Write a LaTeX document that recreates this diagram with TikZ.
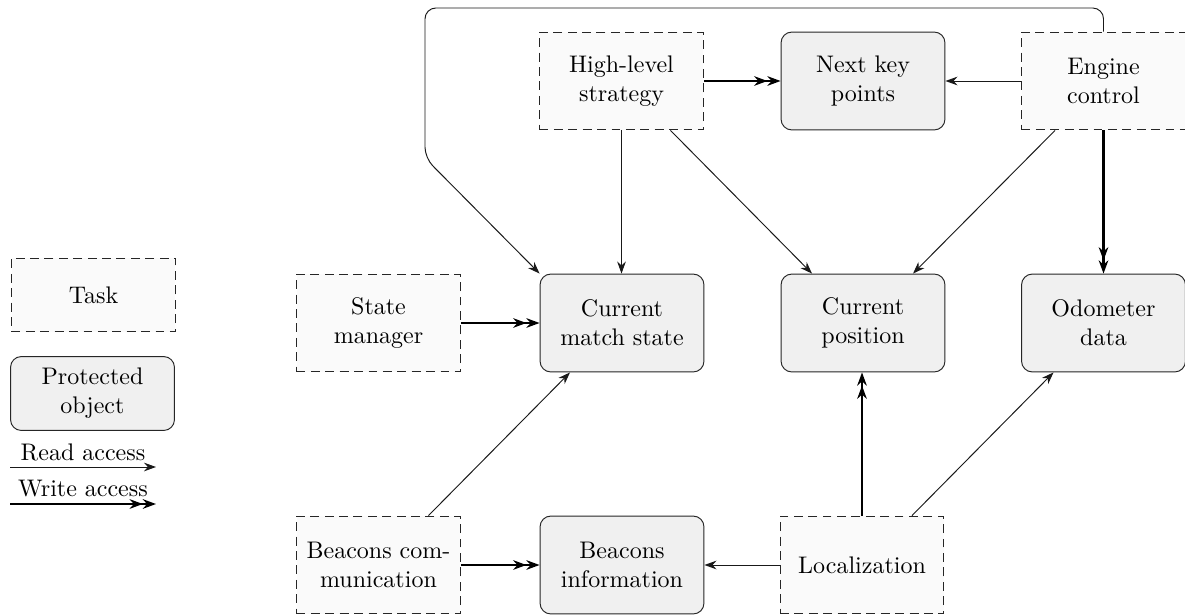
\documentclass[tikz,border=0pt]{standalone}
\usetikzlibrary{arrows.meta,calc}
\begin{document}
\begin{tikzpicture}[x=0.41667pt,y=-0.41667pt,
  box/.style={minimum width=68.3pt,minimum height=40.8pt,align=center,inner sep=2pt,font=\normalsize},
  task/.style={box,draw=black!85,fill=black!2,dash pattern=on 3.7pt off 2.3pt,line width=0.4pt},
  prot/.style={box,draw=black!85,fill=black!6,rounded corners=4.5pt,line width=0.4pt},
  legend/.style={minimum height=30.8pt},
  read/.style={-{Stealth[length=5pt,width=3.6pt]},line width=0.4pt,black!90},
  write/.style={-{Stealth[length=5.5pt,width=4pt]Stealth[length=5.5pt,width=4pt]},line width=0.9pt}
]
\useasboundingbox[fill=white] (0,0) rectangle (1185,616);

% legend
\node[task,legend] (lt) at (93.5,295) {Task};
\node[prot,legend] (lp) at (92.5,393.5) {Protected\\object};
\node[inner sep=0pt] (lr) at (83,452) {Read access};
\node[inner sep=0pt] (lw) at (83,489) {Write access};
\coordinate (lra) at (10,467); \coordinate (lrb) at (156,467);
\coordinate (lwa) at (10,504); \coordinate (lwb) at (156,504);
\draw[read] (lra) -- (lrb);
\draw[write] (lwa) -- (lwb);

% top row
\node[task] (hls) at (621.5,81) {High-level\\strategy};
\node[prot] (nkp) at (863,81) {Next key\\points};
\node[task] (eng) at (1103.5,81) {Engine\\control};

% middle row
\node[task] (sm) at (378.5,323) {State\\manager};
\node[prot] (cms) at (622,323) {Current\\match state};
\node[prot] (cp) at (863,323) {Current\\position};
\node[prot] (od) at (1103.5,323) {Odometer\\data};

% bottom row
\node[task] (bc) at (378.5,565) {Beacons com-\\munication};
\node[prot] (bi) at (622,565) {Beacons\\information};
\node[task] (loc) at (862,565) {Localization};

% write accesses
\draw[write] (hls) -- (nkp);
\draw[write] (eng.south) -- (od.north);
\draw[write] (sm) -- (cms);
\draw[write] (bc) -- (bi);
\draw[write] (loc.north) -- (loc.north |- cp.south);

% read accesses
\draw[read] (eng) -- (nkp);
\draw[read] (hls.south) -- (hls.south |- cms.north);
\draw[read] ($(hls.south)+(49,0)$) -- ($(cp.north)+(-51,0)$);
\draw[read] ($(eng.south)+(-48.5,0)$) -- ($(cp.north)+(50,0)$);
\draw[read] ($(bc.north)+(50,0)$) -- ($(cms.south)+(-52,0)$);
\draw[read] ($(loc.north)+(50,0)$) -- ($(od.south)+(-50,0)$);
\draw[read] (loc) -- (bi);
\draw[read,rounded corners=4.5pt] (eng.north) |- (425,8) -- (425,158) -- (cms.north west);
\end{tikzpicture}
\end{document}
